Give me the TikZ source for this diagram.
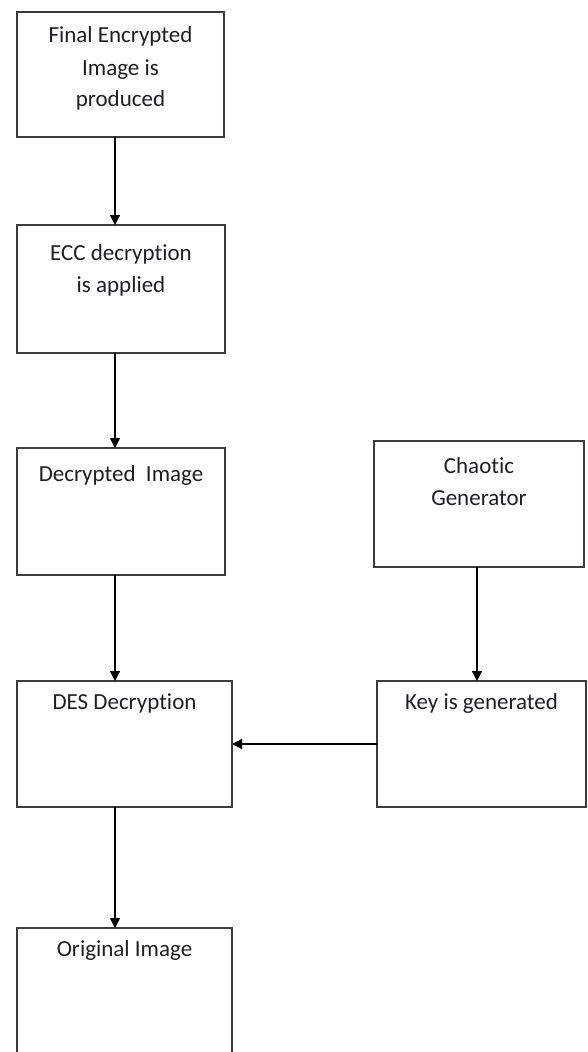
\documentclass[tikz,border=0pt]{standalone}
\usepackage{fontspec}
\setmainfont{Carlito}[Ligatures={NoCommon}]
\usetikzlibrary{arrows.meta}
\definecolor{boxgray}{HTML}{3C3C3C}
\definecolor{txtcol}{HTML}{1E1E28}
\newcommand{\boxcontent}[4]{\parbox[t][#2][t]{#1}{\centering\fontsize{23}{32}\selectfont\color{txtcol}\rule{0pt}{#3}#4\par}}
\tikzset{
  stepbox/.style={draw=boxgray, line width=2.2pt, inner sep=0pt, outer sep=0pt, anchor=north west},
  arr/.style={draw=black, line width=1.5pt, -{Triangle[length=10pt,width=10pt]}}
}
\begin{document}
\begin{tikzpicture}[x=1pt,y=-1pt]
\useasboundingbox (0,0) rectangle (587,1052);
\clip (0,0) rectangle (587,1052);
\node[stepbox] (b1) at (17,12) {\boxcontent{207pt}{125pt}{31pt}{Final Encrypted\\Image is\\produced}};
\node[stepbox] (b2) at (17,225) {\boxcontent{208pt}{128pt}{35pt}{ECC decryption\\is applied}};
\node[stepbox] (b3) at (17,448) {\boxcontent{208pt}{127pt}{33pt}{Decrypted~ Image}};
\node[stepbox] (b4) at (17,681) {\boxcontent{215pt}{126pt}{28pt}{DES Decryption}};
\node[stepbox] (b5) at (17,928) {\boxcontent{215pt}{140pt}{28pt}{Original Image}};
\node[stepbox] (b6) at (374,441) {\boxcontent{210pt}{126pt}{32pt}{Chaotic\\Generator}};
\node[stepbox] (b7) at (377,681) {\boxcontent{209pt}{126pt}{28pt}{Key is generated}};
\coordinate (ax) at (115,0);
\coordinate (bx) at (477,0);
\draw[arr] (b1.south -| ax) -- (b2.north -| ax);
\draw[arr] (b2.south -| ax) -- (b3.north -| ax);
\draw[arr] (b3.south -| ax) -- (b4.north -| ax);
\draw[arr] (b4.south -| ax) -- (b5.north -| ax);
\draw[arr] (b6.south -| bx) -- (b7.north -| bx);
\draw[arr] (b7.west) -- (b4.east);
\end{tikzpicture}
\end{document}
